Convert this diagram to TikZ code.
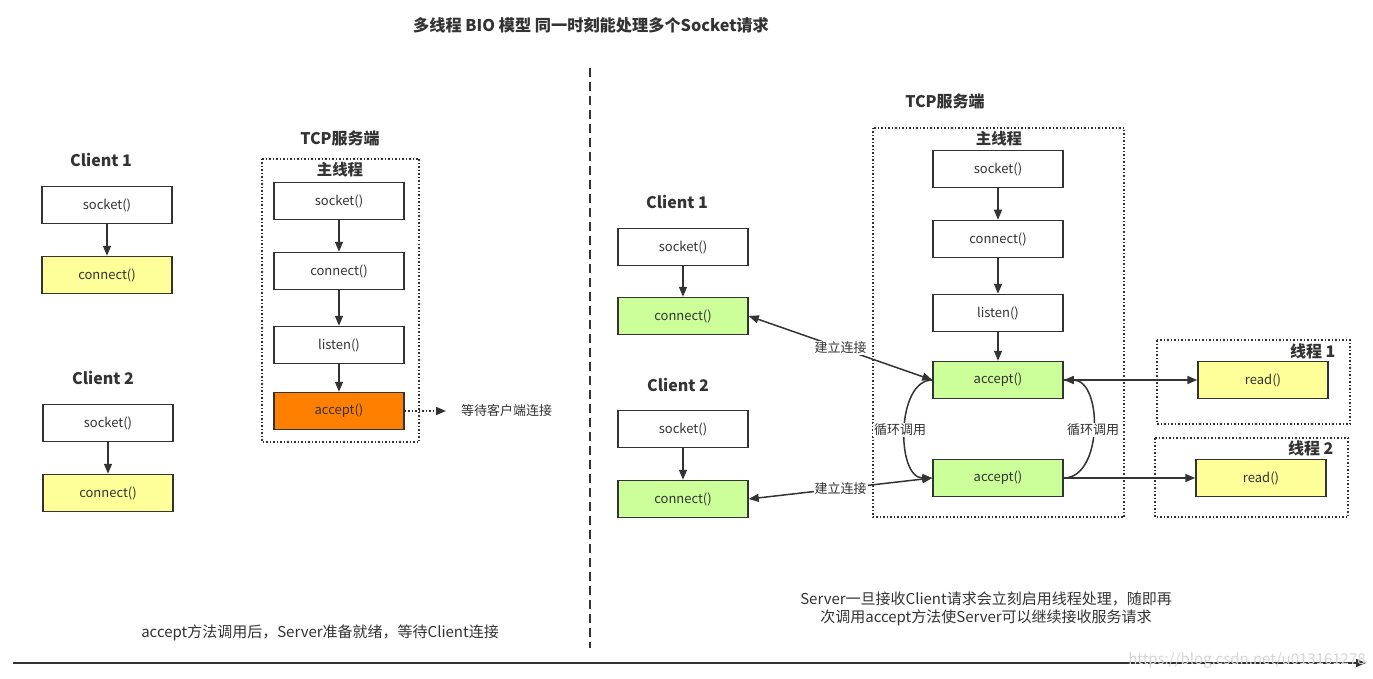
\documentclass[tikz,border=0pt]{standalone}
\usepackage{fontspec}
\setmainfont{Noto Sans CJK SC}
\usetikzlibrary{arrows.meta}
\definecolor{boxc}{HTML}{333333}
\definecolor{txt}{HTML}{333333}
\definecolor{yel}{HTML}{FFFF99}
\definecolor{grn}{HTML}{CCFF99}
\definecolor{org}{HTML}{FF8000}
\tikzset{
  box/.style={draw=boxc, line width=1.5pt, fill=white, minimum width=130pt, minimum height=37pt, inner sep=0pt, font=\fontsize{13}{15}\selectfont, text=txt},
  arr/.style={-{Triangle[length=10pt,width=8pt]}, line width=1.5pt, draw=boxc},
  darr/.style={{Triangle[length=10pt,width=8pt]}-{Triangle[length=10pt,width=8pt]}, line width=1.5pt, draw=boxc},
  head/.style={font=\bfseries\fontsize{16}{19}\selectfont, text=txt},
  sub/.style={font=\bfseries\fontsize{15.4}{18}\selectfont, text=txt},
  note/.style={font=\fontsize{15}{18}\selectfont, text=txt, align=center},
  small/.style={font=\fontsize{13}{15}\selectfont, text=txt, inner sep=1pt},
  dotbox/.style={draw=boxc, line width=1.5pt, dotted},
}
\begin{document}
\begin{tikzpicture}[x=1pt,y=-1pt]
\useasboundingbox (0,0) rectangle (1373,679);
\fill[white] (0,0) rectangle (1373,679);
% title
\node[head, font=\bfseries\fontsize{16.2}{19}\selectfont] (title) at (591,25) {多线程 BIO 模型 同一时刻能处理多个Socket请求};
% divider
\coordinate (dvt) at (590,68);
\coordinate (dvb) at (590,648);
\draw[boxc, line width=1.5pt, dash pattern=on 9pt off 5pt] (dvt) -- (dvb);
% bottom axis
\coordinate (axl) at (13,663);
\coordinate (axr) at (1366,663);
\draw[arr] (axl) -- (axr);
\node[font=\fontsize{15}{17}\selectfont, text=black!16] (wm) at (1247,660) {https://blog.csdn.net/u013161278};

% ---------- left half ----------
\node[head] (lc1) at (101,160) {Client 1};
\node[box] (lc1s) at (107,205) {socket()};
\node[box, fill=yel] (lc1c) at (107,275) {connect()};
\draw[arr] (lc1s) -- (lc1c);
\node[head] (lc2) at (103,378) {Client 2};
\node[box] (lc2s) at (108,423) {socket()};
\node[box, fill=yel] (lc2c) at (108,493) {connect()};
\draw[arr] (lc2s) -- (lc2c);

\node[head] (ltcp) at (340,138) {TCP服务端};
\draw[dotbox] (262,159) rectangle (419,442);
\node[sub] (lmain) at (340,170) {主线程};
\node[box] (ls) at (339,201) {socket()};
\node[box] (lcn) at (339,271) {connect()};
\node[box] (ll) at (339,345) {listen()};
\node[box, fill=org] (la) at (339,411) {accept()};
\draw[arr] (ls) -- (lcn);
\draw[arr] (lcn) -- (ll);
\draw[arr] (ll) -- (la);
\node[small, anchor=west] (wait) at (460,411) {等待客户端连接};
\coordinate (waitend) at (446,411);
\draw[arr, dotted] (la) -- (waitend);
\node[note] (lnote) at (320,633) {accept方法调用后，Server准备就绪，等待Client连接};

% ---------- right half ----------
\node[head] (rtcp) at (945,101) {TCP服务端};
\draw[dotbox] (873,128) rectangle (1124,517);
\node[sub] (rmain) at (999,139) {主线程};
\node[box] (rs) at (998,169) {socket()};
\node[box] (rcn) at (998,239) {connect()};
\node[box] (rl) at (998,313) {listen()};
\node[box, fill=grn] (ra1) at (998,380) {accept()};
\node[box, fill=grn] (ra2) at (998,478) {accept()};
\draw[arr] (rs) -- (rcn);
\draw[arr] (rcn) -- (rl);
\draw[arr] (rl) -- (ra1);

\node[head] (rc1) at (677,202) {Client 1};
\node[box] (rc1s) at (683,247) {socket()};
\node[box, fill=grn] (rc1c) at (683,316) {connect()};
\draw[arr] (rc1s) -- (rc1c);
\node[head] (rc2) at (678,385) {Client 2};
\node[box] (rc2s) at (683,429) {socket()};
\node[box, fill=grn] (rc2c) at (683,499) {connect()};
\draw[arr] (rc2s) -- (rc2c);

\draw[darr] (rc1c.east) -- node[small, fill=white, pos=0.5] (conn1) {建立连接} (ra1.west);
\draw[darr] (rc2c.east) -- node[small, fill=white, pos=0.5] (conn2) {建立连接} (ra2.west);

% loop curves
\draw[arr] (ra1.west) .. controls (896,380) and (896,478) .. (ra2.west);
\draw[arr] (ra2.east) .. controls (1103,478) and (1103,380) .. (ra1.east);
\node[small, fill=white] (loop1) at (900,430) {循环调用};
\node[small, fill=white] (loop2) at (1093,430) {循环调用};

% threads
\draw[dotbox] (1157,340) rectangle (1350,424);
\node[head, anchor=east] (th1) at (1339,351) {线程 1};
\node[box, fill=yel] (rd1) at (1263,380) {read()};
\draw[dotbox] (1155,438) rectangle (1348,517);
\node[head, anchor=east] (th2) at (1337,448) {线程 2};
\node[box, fill=yel] (rd2) at (1261,478) {read()};
\draw[arr] (ra1.east) -- (rd1.west);
\draw[arr] (ra2.east) -- (rd2.west);

\node[note] (rnote) at (986,609) {Server一旦接收Client请求会立刻启用线程处理，随即再\\次调用accept方法使Server可以继续接收服务请求};
\end{tikzpicture}
\end{document}
